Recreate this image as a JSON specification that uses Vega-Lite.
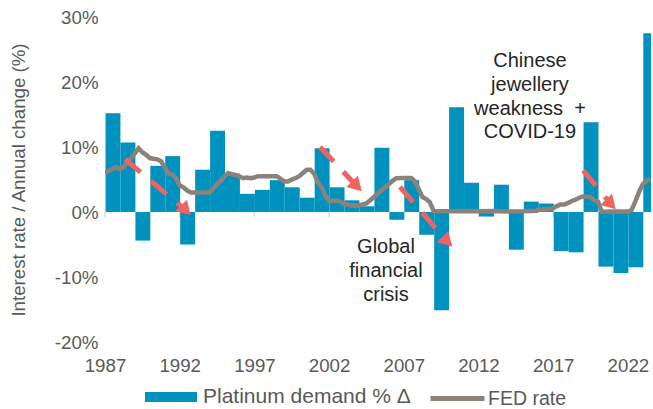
{
  "$schema": "https://vega.github.io/schema/vega-lite/v6.json",
  "width": 546,
  "height": 325,
  "autosize": "none",
  "padding": {"left": 105, "top": 17, "right": 2, "bottom": 67},
  "background": "white",
  "config": {
    "font": "Liberation Sans",
    "view": {"stroke": null},
    "axis": {"grid": false}
  },
  "datasets": {
    "demand": [
      {"year": "1987-01-01", "change": 15.2},
      {"year": "1988-01-01", "change": 10.7},
      {"year": "1989-01-01", "change": -4.4},
      {"year": "1990-01-01", "change": 7.1},
      {"year": "1991-01-01", "change": 8.6},
      {"year": "1992-01-01", "change": -5.0},
      {"year": "1993-01-01", "change": 6.5},
      {"year": "1994-01-01", "change": 12.5},
      {"year": "1995-01-01", "change": 5.9},
      {"year": "1996-01-01", "change": 2.8},
      {"year": "1997-01-01", "change": 3.4},
      {"year": "1998-01-01", "change": 4.9},
      {"year": "1999-01-01", "change": 3.8},
      {"year": "2000-01-01", "change": 2.2},
      {"year": "2001-01-01", "change": 9.8},
      {"year": "2002-01-01", "change": 3.8},
      {"year": "2003-01-01", "change": 1.8},
      {"year": "2004-01-01", "change": 0.9},
      {"year": "2005-01-01", "change": 9.9},
      {"year": "2006-01-01", "change": -1.2},
      {"year": "2007-01-01", "change": 4.9},
      {"year": "2008-01-01", "change": -3.5},
      {"year": "2009-01-01", "change": -15.1},
      {"year": "2010-01-01", "change": 16.1},
      {"year": "2011-01-01", "change": 4.5},
      {"year": "2012-01-01", "change": -0.7},
      {"year": "2013-01-01", "change": 4.2},
      {"year": "2014-01-01", "change": -5.8},
      {"year": "2015-01-01", "change": 1.6},
      {"year": "2016-01-01", "change": 1.3},
      {"year": "2017-01-01", "change": -6.0},
      {"year": "2018-01-01", "change": -6.2},
      {"year": "2019-01-01", "change": 13.8},
      {"year": "2020-01-01", "change": -8.4},
      {"year": "2021-01-01", "change": -9.4},
      {"year": "2022-01-01", "change": -8.5},
      {"year": "2023-01-01", "change": 27.5}
    ],
    "fed": [
      {"date": "1987-01-01", "rate": 6.0},
      {"date": "1987-04-01", "rate": 6.3},
      {"date": "1987-07-01", "rate": 6.6},
      {"date": "1987-10-01", "rate": 6.9},
      {"date": "1988-01-01", "rate": 6.6},
      {"date": "1988-04-01", "rate": 6.9},
      {"date": "1988-07-01", "rate": 7.7},
      {"date": "1988-10-01", "rate": 8.3},
      {"date": "1989-01-01", "rate": 9.0},
      {"date": "1989-04-01", "rate": 9.8},
      {"date": "1989-07-01", "rate": 9.2},
      {"date": "1989-10-01", "rate": 8.8},
      {"date": "1990-01-01", "rate": 8.3},
      {"date": "1990-04-01", "rate": 8.2},
      {"date": "1990-07-01", "rate": 8.1},
      {"date": "1990-10-01", "rate": 7.8},
      {"date": "1991-01-01", "rate": 6.9},
      {"date": "1991-04-01", "rate": 5.9},
      {"date": "1991-07-01", "rate": 5.8},
      {"date": "1991-10-01", "rate": 5.2},
      {"date": "1992-01-01", "rate": 4.1},
      {"date": "1992-04-01", "rate": 3.8},
      {"date": "1992-07-01", "rate": 3.3},
      {"date": "1992-10-01", "rate": 3.0},
      {"date": "1993-01-01", "rate": 3.0},
      {"date": "1993-07-01", "rate": 3.0},
      {"date": "1994-01-01", "rate": 3.0},
      {"date": "1994-04-01", "rate": 3.6},
      {"date": "1994-07-01", "rate": 4.3},
      {"date": "1994-10-01", "rate": 4.8},
      {"date": "1995-01-01", "rate": 5.5},
      {"date": "1995-04-01", "rate": 6.0},
      {"date": "1995-07-01", "rate": 5.8},
      {"date": "1995-10-01", "rate": 5.7},
      {"date": "1996-01-01", "rate": 5.5},
      {"date": "1996-04-01", "rate": 5.2},
      {"date": "1996-07-01", "rate": 5.3},
      {"date": "1996-10-01", "rate": 5.2},
      {"date": "1997-01-01", "rate": 5.3},
      {"date": "1997-04-01", "rate": 5.5},
      {"date": "1997-07-01", "rate": 5.5},
      {"date": "1997-10-01", "rate": 5.5},
      {"date": "1998-01-01", "rate": 5.5},
      {"date": "1998-07-01", "rate": 5.5},
      {"date": "1998-10-01", "rate": 5.1},
      {"date": "1999-01-01", "rate": 4.7},
      {"date": "1999-04-01", "rate": 4.7},
      {"date": "1999-07-01", "rate": 5.0},
      {"date": "1999-10-01", "rate": 5.2},
      {"date": "2000-01-01", "rate": 5.5},
      {"date": "2000-04-01", "rate": 6.0},
      {"date": "2000-07-01", "rate": 6.5},
      {"date": "2000-10-01", "rate": 6.5},
      {"date": "2001-01-01", "rate": 5.9},
      {"date": "2001-04-01", "rate": 4.6},
      {"date": "2001-07-01", "rate": 3.8},
      {"date": "2001-10-01", "rate": 2.5},
      {"date": "2002-01-01", "rate": 1.7},
      {"date": "2002-07-01", "rate": 1.75},
      {"date": "2002-10-01", "rate": 1.6},
      {"date": "2003-01-01", "rate": 1.25},
      {"date": "2003-07-01", "rate": 1.0},
      {"date": "2004-01-01", "rate": 1.0},
      {"date": "2004-07-01", "rate": 1.3},
      {"date": "2004-10-01", "rate": 1.8},
      {"date": "2005-01-01", "rate": 2.3},
      {"date": "2005-04-01", "rate": 2.8},
      {"date": "2005-07-01", "rate": 3.3},
      {"date": "2005-10-01", "rate": 3.8},
      {"date": "2006-01-01", "rate": 4.3},
      {"date": "2006-04-01", "rate": 4.8},
      {"date": "2006-07-01", "rate": 5.2},
      {"date": "2007-01-01", "rate": 5.25},
      {"date": "2007-07-01", "rate": 5.25},
      {"date": "2007-10-01", "rate": 4.7},
      {"date": "2008-01-01", "rate": 3.5},
      {"date": "2008-04-01", "rate": 2.3},
      {"date": "2008-07-01", "rate": 2.0},
      {"date": "2008-10-01", "rate": 1.5},
      {"date": "2009-01-01", "rate": 0.15},
      {"date": "2010-01-01", "rate": 0.12},
      {"date": "2011-01-01", "rate": 0.15},
      {"date": "2012-01-01", "rate": 0.1},
      {"date": "2013-01-01", "rate": 0.14},
      {"date": "2014-01-01", "rate": 0.07},
      {"date": "2015-01-01", "rate": 0.1},
      {"date": "2015-12-01", "rate": 0.2},
      {"date": "2016-01-01", "rate": 0.35},
      {"date": "2016-12-01", "rate": 0.5},
      {"date": "2017-04-01", "rate": 0.9},
      {"date": "2017-07-01", "rate": 1.15},
      {"date": "2017-10-01", "rate": 1.15},
      {"date": "2018-01-01", "rate": 1.4},
      {"date": "2018-04-01", "rate": 1.7},
      {"date": "2018-07-01", "rate": 1.9},
      {"date": "2018-10-01", "rate": 2.2},
      {"date": "2019-01-01", "rate": 2.4},
      {"date": "2019-04-01", "rate": 2.4},
      {"date": "2019-07-01", "rate": 2.3},
      {"date": "2019-10-01", "rate": 1.8},
      {"date": "2020-01-01", "rate": 1.6},
      {"date": "2020-04-01", "rate": 0.05},
      {"date": "2021-01-01", "rate": 0.08},
      {"date": "2022-01-01", "rate": 0.08},
      {"date": "2022-04-01", "rate": 0.3},
      {"date": "2022-07-01", "rate": 1.6},
      {"date": "2022-10-01", "rate": 3.1},
      {"date": "2023-01-01", "rate": 4.3},
      {"date": "2023-04-01", "rate": 4.8},
      {"date": "2023-07-01", "rate": 5.1}
    ],
    "arrows": [
      {"x": "1988-05-08", "y": 8.1, "x2": "1992-06-02", "y2": 0.26},
      {"x": "2001-05-22", "y": 10.0, "x2": "2003-11-13", "y2": 3.95},
      {"x": "2006-10-01", "y": 3.85, "x2": "2009-12-01", "y2": -4.58},
      {"x": "2019-01-05", "y": 6.4, "x2": "2020-11-14", "y2": 1.18}
    ],
    "ticks": [
      {"t": "1987-01-01"}, {"t": "1992-01-01"}, {"t": "1997-01-01"}, {"t": "2002-01-01"},
      {"t": "2007-01-01"}, {"t": "2012-01-01"}, {"t": "2017-01-01"}, {"t": "2022-01-01"}
    ],
    "notes": [
      {"x": "2015-06-13", "y": 22.26, "label": "Chinese\njewellery\nweakness \u00a0+\nCOVID-19"},
      {"x": "2005-10-23", "y": -6.35, "label": "Global\nfinancial\ncrisis"}
    ]
  },
  "layer": [
    {
      "data": {"name": "ticks"},
      "mark": {"type": "rule", "color": "#d9d9d9", "strokeWidth": 1.5},
      "encoding": {
        "x": {"field": "t", "type": "temporal"},
        "y": {"datum": 0},
        "y2": {"datum": -0.8}
      }
    },
    {
      "data": {"name": "demand"},
      "mark": {"type": "bar", "clip": true, "binSpacing": 0},
      "encoding": {
        "x": {
          "field": "year", "timeUnit": "utcyear", "type": "temporal",
          "scale": {"type": "utc", "domain": [{"year": 1987, "month": 1, "date": 1, "utc": true}, {"year": 2023, "month": 7, "date": 20, "utc": true}]},
          "axis": {
            "title": null, "domain": false, "ticks": false, "grid": false,
            "values": [
              {"year": 1987, "utc": true}, {"year": 1992, "utc": true}, {"year": 1997, "utc": true}, {"year": 2002, "utc": true},
              {"year": 2007, "utc": true}, {"year": 2012, "utc": true}, {"year": 2017, "utc": true}, {"year": 2022, "utc": true}
            ],
            "labelExpr": "utcFormat(datum.value, '%Y')",
            "labelFontSize": 18.7, "labelColor": "#595959", "labelPadding": 14, "labelFlush": false, "labelOverlap": false
          }
        },
        "y": {
          "field": "change", "type": "quantitative",
          "scale": {"domain": [-20, 30], "nice": false, "zero": false},
          "axis": {
            "values": [-20, -10, 0, 10, 20, 30],
            "labelExpr": "datum.value + '%'",
            "domain": false, "ticks": false, "grid": false,
            "labelFontSize": 18.7, "labelColor": "#595959", "labelPadding": 7,
            "title": "Interest rate / Annual change (%)",
            "titleFontSize": 18.7, "titleFontWeight": "normal", "titleColor": "#595959", "titlePadding": 26
          }
        },
        "color": {
          "datum": "Platinum demand % Δ",
          "scale": {"range": ["#0092bf"]},
          "legend": {
            "orient": "none", "legendX": 40, "legendY": 354, "title": null, "padding": 0,
            "symbolType": "M-1,-0.19H1V0.19H-1Z", "symbolSize": 2704, "symbolStrokeWidth": 0,
            "labelFontSize": 21, "labelColor": "#595959", "labelOffset": 6, "labelLimit": 0
          }
        }
      }
    },
    {
      "data": {"name": "fed"},
      "mark": {"type": "line", "strokeWidth": 4.5, "clip": true},
      "encoding": {
        "x": {"field": "date", "type": "temporal"},
        "y": {"field": "rate", "type": "quantitative"},
        "color": {
          "datum": "FED rate",
          "scale": {"range": ["#8b837b"]},
          "legend": {
            "orient": "none", "legendX": 323, "legendY": 352, "title": null, "padding": 0,
            "symbolType": "stroke", "symbolSize": 2916, "symbolStrokeWidth": 5,
            "labelFontSize": 19.5, "labelColor": "#595959", "labelOffset": 1, "labelLimit": 0
          }
        }
      }
    },
    {
      "data": {"name": "arrows"},
      "mark": {"type": "rule", "color": "#ef6461", "strokeWidth": 5, "strokeDash": [20, 14], "strokeCap": "butt"},
      "encoding": {
        "x": {"field": "x", "type": "temporal"},
        "y": {"field": "y", "type": "quantitative"},
        "x2": {"field": "x2"},
        "y2": {"field": "y2"}
      }
    },
    {
      "data": {"name": "arrows"},
      "mark": {"type": "point", "shape": "triangle-right", "angle": 46, "filled": true, "size": 260, "color": "#ef6461", "opacity": 1},
      "encoding": {
        "x": {"field": "x2", "type": "temporal"},
        "y": {"field": "y2", "type": "quantitative"}
      }
    },
    {
      "data": {"name": "notes"},
      "mark": {"type": "text", "lineBreak": "\n", "align": "center", "baseline": "alphabetic", "fontSize": 20, "lineHeight": 23.7, "color": "#262626"},
      "encoding": {
        "x": {"field": "x", "type": "temporal"},
        "y": {"field": "y", "type": "quantitative"},
        "text": {"field": "label"}
      }
    }
  ],
  "resolve": {"scale": {"color": "independent"}}
}
